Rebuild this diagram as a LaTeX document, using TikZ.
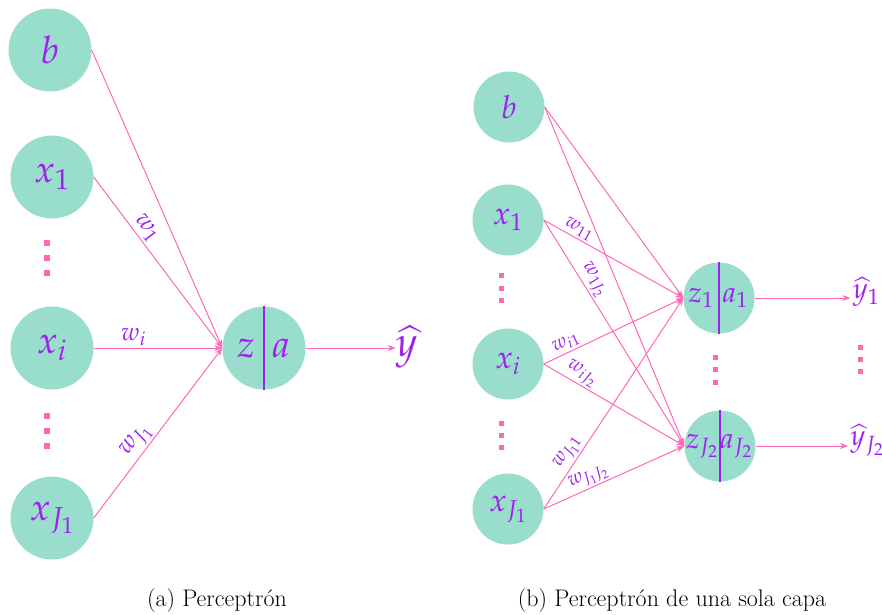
\documentclass[tikz,border=0pt]{standalone}
\usepackage[sc]{mathpazo}
\renewcommand\rmdefault{lmr}
\usetikzlibrary{arrows.meta}
\definecolor{mint}{RGB}{153,221,204}
\definecolor{lbl}{RGB}{160,32,240}
\definecolor{pinkedge}{RGB}{255,105,180}
\tikzset{
  neuronA/.style={circle, fill=mint, minimum size=83pt, inner sep=0pt, text=lbl, font=\fontsize{38}{42}\selectfont},
  neuronB/.style={circle, fill=mint, minimum size=71pt, inner sep=0pt, text=lbl, font=\fontsize{32}{36}\selectfont},
  txtA/.style={text=lbl, inner sep=0pt, font=\fontsize{38}{42}\selectfont},
  txtB/.style={text=lbl, inner sep=0pt, font=\fontsize{29}{32}\selectfont},
  conn/.style={draw=pinkedge, line width=1pt, -{Stealth[length=8pt,width=6pt]}},
  wA/.style={sloped, above, text=lbl, font=\fontsize{25}{28}\selectfont, inner sep=2pt},
  wB/.style={sloped, above, text=lbl, font=\fontsize{20}{24}\selectfont, inner sep=2pt},
  divline/.style={draw=lbl, line width=1.3pt},
  caption/.style={font=\fontsize{24}{28}\selectfont, inner sep=0pt},
}
\begin{document}
\begin{tikzpicture}[x=1pt,y=-1pt]
\useasboundingbox (0,0) rectangle (882,614);
% ---------- (a) ----------
\node[neuronA] (b) at (50,50) {$b$};
\node[neuronA] (x1) at (52,177) {$x_1$};
\node[neuronA] (xi) at (52,348) {$x_i$};
\node[neuronA] (xJ) at (52,518) {$x_{J_1}$};
\node[neuronA] (za) at (264,348) {};
\draw[divline] (za.north) -- (za.south);
\node[txtA] (zlab) at ([xshift=-18pt]za.center) {$z$};
\node[txtA] (alab) at ([xshift=17pt]za.center) {$a$};
\node[txtA, font=\fontsize{42}{46}\selectfont] (yhat) at (407,347) {$\widehat{y}$};
\foreach \yy in {243,258,273,416,431,446}
  \fill[pinkedge] (44,\yy-3) rectangle ++(6,6);
\draw[conn] (b.east) -- (za.west);
\draw[conn] (x1.east) -- node[wA, pos=0.34] (w1) {$w_1$} (za.west);
\draw[conn] (xi.east) -- node[wA, pos=0.31] (wi) {$w_i$} (za.west);
\draw[conn] (xJ.east) -- node[wA, pos=0.41] (wJ) {$w_{J_1}$} (za.west);
\draw[conn] (za.east) -- (yhat.west |- za.east);
% ---------- (b) ----------
\node[neuronB] (b2) at (509,107) {$b$};
\node[neuronB] (x12) at (508,220) {$x_1$};
\node[neuronB] (xi2) at (508,364) {$x_i$};
\node[neuronB] (xJ2) at (508,509) {$x_{J_1}$};
\node[neuronB] (h1) at (719,298) {};
\node[neuronB] (hJ) at (720,446) {};
\draw[divline] (h1.north) -- (h1.south);
\draw[divline] (hJ.north) -- (hJ.south);
\node[txtB] (z1lab) at ([xshift=-18pt]h1.center) {$z_1$};
\node[txtB] (a1lab) at ([xshift=16pt]h1.center) {$a_1$};
\node[txtB] (zJlab) at ([xshift=-18pt]hJ.center) {$z_{J_2}$};
\node[txtB] (aJlab) at ([xshift=16pt]hJ.center) {$a_{J_2}$};
\node[txtB] (y1) at (866,292) {$\widehat{y}_1$};
\node[txtB] (yJ) at (867,440) {$\widehat{y}_{J_2}$};
\foreach \yy in {275,288,300,423,435,447}
  \fill[pinkedge] (498.5,\yy-2.5) rectangle ++(5,5);
\foreach \yy in {357,369,382}
  \fill[pinkedge] (712.5,\yy-2.5) rectangle ++(5,5);
\foreach \yy in {347,359,371}
  \fill[pinkedge] (857.5,\yy-2.5) rectangle ++(5,5);
\draw[conn] (b2.east) -- (h1.west);
\draw[conn] (b2.east) -- (hJ.west);
\draw[conn] (x12.east) -- node[wB, pos=0.22] (w11) {$w_{11}$} (h1.west);
\draw[conn] (x12.east) -- node[wB, pos=0.29] (w1J) {$w_{1J_2}$} (hJ.west);
\draw[conn] (xi2.east) -- node[wB, pos=0.19] (wi1) {$w_{i1}$} (h1.west);
\draw[conn] (xi2.east) -- node[wB, pos=0.23] (wiJ) {$w_{iJ_2}$} (hJ.west);
\draw[conn] (xJ2.east) -- node[wB, pos=0.24] (wJ1) {$w_{J_11}$} (h1.west);
\draw[conn] (xJ2.east) -- node[wB, pos=0.35] (wJJ) {$w_{J_1J_2}$} (hJ.west);
\draw[conn] (h1.east) -- ([xshift=-2pt]y1.west |- h1.east);
\draw[conn] (hJ.east) -- ([xshift=-2pt]yJ.west |- hJ.east);
% ---------- captions ----------
\node[caption] (capa) at (217,600) {(a) Perceptrón};
\node[caption] (capb) at (672,600) {(b) Perceptrón de una sola capa};
\end{tikzpicture}
\end{document}
